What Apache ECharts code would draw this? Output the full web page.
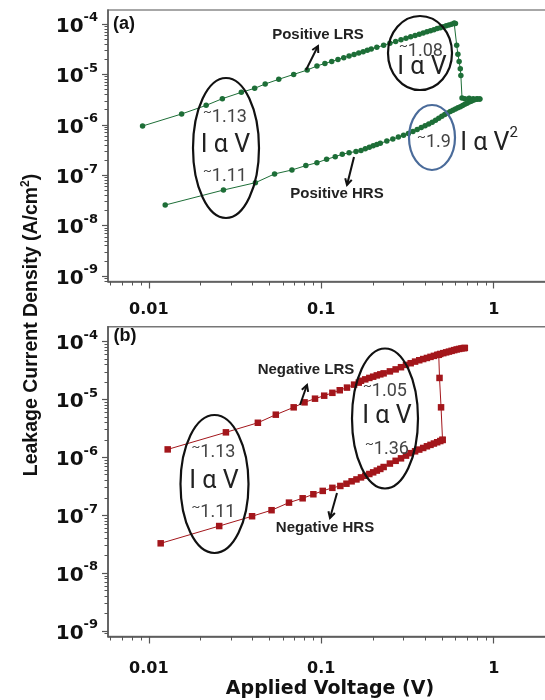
<!DOCTYPE html>
<html><head><meta charset="utf-8">
<script src="https://cdn.jsdelivr.net/npm/echarts@6/dist/echarts.min.js"></script>
<style>html,body{margin:0;padding:0;background:#fff}#c{width:545px;height:700px}</style>
</head><body><div id="c"></div>
<script>
// ---- tick labels ----
const xMajorTicks = [0.01, 0.1, 1];
const yMajorTicks = [1e-9, 1e-8, 1e-7, 1e-6, 1e-5, 1e-4];
const minorMultipliers = [2, 3, 4, 5, 6, 7, 8, 9];

// ---- (a) positive sweep ----
const posLrsV = [0.0092,0.0155,0.0215,0.0267,0.0344,0.0411,0.0473,0.0567,0.0692,0.0829,0.0944,0.105,0.115,0.125,0.135,0.145,0.155,0.165,0.175,0.185,0.195,0.21,0.23,0.25,0.27,0.29,0.31,0.33,0.35,0.37,0.39,0.41,0.43,0.45,0.47,0.49,0.51,0.53,0.55,0.57,0.59];
const posLrsJ = [9.46e-7,1.64e-6,2.43e-6,3.3e-6,4.41e-6,5.3e-6,6.45e-6,8.0e-6,1.0e-5,1.22e-5,1.47e-5,1.65e-5,1.81e-5,1.98e-5,2.15e-5,2.32e-5,2.49e-5,2.66e-5,2.83e-5,3.01e-5,3.18e-5,3.44e-5,3.79e-5,4.14e-5,4.49e-5,4.85e-5,5.2e-5,5.56e-5,5.92e-5,6.28e-5,6.64e-5,7.0e-5,7.37e-5,7.73e-5,8.1e-5,8.47e-5,8.83e-5,9.2e-5,9.57e-5,9.94e-5,1.03e-4];
const posDropV = [0.59,0.6,0.61,0.62,0.63,0.64,0.645,0.655,0.68,0.72,0.76,0.8,0.83];
const posDropJ = [1.03e-4,1.02e-4,3.8e-5,2.5e-5,1.8e-5,1.3e-5,9.5e-6,3.4e-6,3.3e-6,3.35e-6,3.3e-6,3.3e-6,3.25e-6];
const posHrsV = [0.01245,0.0271,0.0415,0.0536,0.0676,0.0814,0.0944,0.1074,0.1205,0.1324,0.145,0.159,0.17,0.18,0.19,0.2,0.21,0.22,0.24,0.26,0.28,0.30,0.32,0.34,0.36,0.38,0.40,0.42,0.44,0.46,0.48,0.50,0.52,0.54,0.56,0.58,0.60,0.62,0.64,0.66,0.68,0.70,0.72,0.74,0.76,0.78,0.80,0.83];
const posHrsJ = [2.56e-8,5.08e-8,7.1e-8,1.06e-7,1.27e-7,1.55e-7,1.77e-7,2.07e-7,2.33e-7,2.6e-7,2.8e-7,2.95e-7,3.1e-7,3.35e-7,3.6e-7,3.85e-7,4.05e-7,4.3e-7,4.75e-7,5.2e-7,5.7e-7,6.2e-7,6.75e-7,7.4e-7,8.1e-7,8.8e-7,9.6e-7,1.04e-6,1.12e-6,1.23e-6,1.35e-6,1.48e-6,1.6e-6,1.72e-6,1.83e-6,1.95e-6,2.07e-6,2.18e-6,2.29e-6,2.42e-6,2.55e-6,2.68e-6,2.82e-6,2.95e-6,3.08e-6,3.17e-6,3.23e-6,3.25e-6];

// ---- (b) negative sweep ----
const negLrsV = [0.01287,0.028,0.0429,0.0545,0.0692,0.08,0.092,0.104,0.116,0.128,0.141,0.155,0.165,0.17,0.18,0.19,0.20,0.21,0.22,0.23,0.25,0.27,0.29,0.31,0.33,0.35,0.37,0.39,0.41,0.43,0.45,0.47,0.49,0.51,0.53,0.55,0.57,0.59,0.61,0.63,0.65,0.67,0.68];
const negLrsJ = [1.37e-6,2.7e-6,3.95e-6,5.45e-6,7.3e-6,8.9e-6,1.03e-5,1.16e-5,1.3e-5,1.44e-5,1.6e-5,1.8e-5,1.95e-5,2.1e-5,2.22e-5,2.35e-5,2.47e-5,2.6e-5,2.71e-5,2.82e-5,3.05e-5,3.3e-5,3.6e-5,3.95e-5,4.22e-5,4.5e-5,4.75e-5,4.98e-5,5.2e-5,5.43e-5,5.65e-5,5.88e-5,6.1e-5,6.3e-5,6.5e-5,6.7e-5,6.9e-5,7.1e-5,7.3e-5,7.45e-5,7.6e-5,7.7e-5,7.75e-5];
const negSetV = [0.505,0.495,0.485,0.48];
const negSetJ = [2.0e-6,7.3e-6,2.35e-5,5.9e-5];
const negHrsV = [0.01172,0.0256,0.0397,0.0515,0.065,0.078,0.09,0.102,0.116,0.129,0.14,0.15,0.16,0.17,0.18,0.19,0.20,0.21,0.22,0.23,0.25,0.27,0.29,0.31,0.33,0.35,0.37,0.39,0.41,0.43,0.45,0.47,0.49,0.505];
const negHrsJ = [3.27e-8,6.5e-8,9.6e-8,1.22e-7,1.65e-7,1.96e-7,2.3e-7,2.63e-7,2.97e-7,3.2e-7,3.5e-7,3.85e-7,4.15e-7,4.5e-7,4.8e-7,5.15e-7,5.5e-7,5.9e-7,6.3e-7,6.8e-7,7.8e-7,8.7e-7,9.6e-7,1.07e-6,1.18e-6,1.27e-6,1.36e-6,1.45e-6,1.55e-6,1.64e-6,1.73e-6,1.82e-6,1.91e-6,2.0e-6];

// ---- build helpers ----
const xMinorTicks = [];
[-3,-2,-1,0].forEach(n => minorMultipliers.forEach(k => xMinorTicks.push(+(k*Math.pow(10,n)).toPrecision(3))));
const yMinorTicks = [];
for (let n = -10; n <= -4; n++) minorMultipliers.forEach(k => yMinorTicks.push(+(k*Math.pow(10,n)).toPrecision(3)));

const pairs = (v, j) => v.map((x, i) => [x, j[i]]);
const AX = '#555';
const xMin = 0.0058, xMax = 3;
const yRange = [[Math.pow(10,-9.109), Math.pow(10,-3.722)], [Math.pow(10,-9.095), Math.pow(10,-3.744)]];
const tickFont = 'DejaVu Sans';

function xAxes(g, margin) {
  return [
    {gridIndex:g, type:'log', position:'bottom', min:xMin, max:xMax,
     axisLine:{show:true, onZero:false, lineStyle:{color:AX, width:1.5}},
     axisTick:{show:true, customValues:xMajorTicks, length:7, lineStyle:{color:AX, width:1.2}},
     axisLabel:{show:true, customValues:xMajorTicks, margin:margin, formatter:v=>String(v),
       fontFamily:tickFont, fontWeight:'bold', fontSize:16, color:'#111'},
     splitLine:{show:false}, minorTick:{show:false}},
    {gridIndex:g, type:'log', position:'bottom', min:xMin, max:xMax,
     axisLine:{show:false, onZero:false},
     axisTick:{show:true, customValues:xMinorTicks, length:4, lineStyle:{color:AX, width:1}},
     axisLabel:{show:false}, splitLine:{show:false}}
  ];
}
function yAxes(g) {
  return [
    {gridIndex:g, type:'log', position:'left', min:yRange[g][0], max:yRange[g][1],
     axisLine:{show:true, onZero:false, lineStyle:{color:AX, width:1.5}},
     axisTick:{show:true, customValues:yMajorTicks, length:6, lineStyle:{color:AX, width:1.2}},
     axisLabel:{show:true, customValues:yMajorTicks, margin:10,
       formatter:v=>'{a|10}{b|' + Math.round(Math.log10(v)) + '}',
       rich:{a:{fontFamily:tickFont, fontWeight:'bold', fontSize:20, color:'#111', lineHeight:25, verticalAlign:'bottom'},
             b:{fontFamily:tickFont, fontWeight:'bold', fontSize:13, color:'#111', lineHeight:25, verticalAlign:'top'}}},
     splitLine:{show:false}, minorTick:{show:false}},
    {gridIndex:g, type:'log', position:'left', min:yRange[g][0], max:yRange[g][1],
     axisLine:{show:false, onZero:false},
     axisTick:{show:true, customValues:yMinorTicks, length:3.5, lineStyle:{color:AX, width:1}},
     axisLabel:{show:false}, splitLine:{show:false}}
  ];
}

const GREEN = '#1d6e37', RED = '#a3161b';
function ser(name, data, xi, color, symbol, size) {
  return {name, type:'line', xAxisIndex:xi, yAxisIndex:xi, data, symbol, symbolSize:size,
    itemStyle:{color}, lineStyle:{color, width:1}, showAllSymbol:true, animation:false, z:3};
}

// ---- annotations ----
const ANN = 'Roboto';
function txt(x, y, text, size, opts) {
  opts = opts || {};
  return {type:'text', x, y, z:10, rotation:opts.rot||0, style:{text, fontSize:size,
    fontFamily:opts.family||'Liberation Sans', fontWeight:opts.weight||'normal', fill:opts.color||'#222',
    align:'center', verticalAlign:'middle', rich:opts.rich}};
}
function slope(x, y, value) {
  return {type:'text', x, y, z:10, style:{text:'{t|~}{n|' + value + '}', align:'center', verticalAlign:'middle',
    rich:{t:{fontFamily:ANN, fontSize:13, fill:'#444', lineHeight:20, verticalAlign:'top'},
          n:{fontFamily:ANN, fontSize:18, fill:'#444', lineHeight:20, verticalAlign:'bottom'}}}};
}
function ell(cx, cy, rx, ry, color) {
  return {type:'ellipse', z:10, shape:{cx, cy, rx, ry}, style:{fill:'rgba(0,0,0,0)', stroke:color||'#111', lineWidth:2.2}};
}
function arrow(x1, y1, x2, y2) {
  const a = Math.atan2(y2-y1, x2-x1), L = 7, w = 0.5;
  const p1 = [x2 - L*Math.cos(a-w), y2 - L*Math.sin(a-w)];
  const p2 = [x2 - L*Math.cos(a+w), y2 - L*Math.sin(a+w)];
  return [
    {type:'line', z:10, shape:{x1, y1, x2, y2}, style:{stroke:'#111', lineWidth:2}},
    {type:'polyline', z:10, shape:{points:[p1,[x2,y2],p2]}, style:{stroke:'#111', lineWidth:2, fill:null}}
  ];
}
const iavOpt = {family:ANN, color:'#222'};
const graphics = [
  txt(124, 24, '(a)', 18, {weight:'bold', color:'#111'}),
  txt(125, 336, '(b)', 18, {weight:'bold', color:'#111'}),
  txt(318, 35, 'Positive LRS', 15, {weight:'bold'}),
  txt(337, 194, 'Positive HRS', 15, {weight:'bold'}),
  txt(306, 370, 'Negative LRS', 15, {weight:'bold'}),
  txt(325, 528, 'Negative HRS', 15, {weight:'bold'}),
  ...arrow(306, 70, 318, 46),
  ...arrow(354, 157, 347, 185),
  ...arrow(300, 405, 307, 385),
  ...arrow(337, 493, 330, 518),
  // (a) left ellipse
  ell(226, 148, 33, 70),
  slope(225, 116.5, '1.13'),
  txt(225.5, 146, 'I α V', 25, iavOpt),
  slope(225, 175.5, '1.11'),
  // (a) right ellipse
  ell(420, 53, 32, 37),
  slope(421, 50, '1.08'),
  txt(422, 68, 'I α V', 25, iavOpt),
  // (a) blue ellipse
  ell(432, 137.5, 23, 32.5, '#4a6b9a'),
  slope(434, 141.5, '1.9'),
  {type:'text', x:489, y:141, z:10, style:{text:'{m|I α V}{s|2}', align:'center', verticalAlign:'middle',
    rich:{m:{fontFamily:ANN, fontSize:25, fill:'#222', lineHeight:30, verticalAlign:'bottom'},
          s:{fontFamily:ANN, fontSize:15, fill:'#222', lineHeight:30, verticalAlign:'top'}}}},
  // (b) ellipses
  ell(214.5, 484, 34, 69),
  slope(213.5, 451.5, '1.13'),
  txt(214, 481.5, 'I α V', 25, iavOpt),
  slope(213.5, 511.5, '1.11'),
  ell(385, 418.5, 33, 70),
  slope(385, 390.5, '1.05'),
  txt(387, 416.5, 'I α V', 25, iavOpt),
  slope(387, 448, '1.36'),
  // axis titles
  txt(330, 689, 'Applied Voltage (V)', 19, {family:'DejaVu Sans', weight:'bold', color:'#111'}),
  {type:'text', x:31, y:325, z:10, rotation:Math.PI/2, style:{text:'{t|Leakage Current Density (A/cm}{s|2}{t|)}',
    align:'center', verticalAlign:'middle',
    rich:{t:{fontFamily:'Liberation Sans', fontWeight:'bold', fontSize:19.5, fill:'#111', lineHeight:22, verticalAlign:'bottom'},
          s:{fontFamily:'Liberation Sans', fontWeight:'bold', fontSize:12, fill:'#111', lineHeight:22, verticalAlign:'top'}}}}
];

const chart = echarts.init(document.getElementById('c'), null, {renderer:'canvas'});
chart.setOption({
  animation:false,
  backgroundColor:'#fff',
  grid:[
    {left:108, top:10, width:468, height:271.5, show:true, borderColor:'#8a8a8a', borderWidth:1.5, outerBoundsMode:'none', containLabel:false},
    {left:108, top:326.7, width:468, height:309.8, show:true, borderColor:'#777', borderWidth:1.5, outerBoundsMode:'none', containLabel:false}
  ],
  xAxis:[...xAxes(0, 20), ...xAxes(1, 24)],
  yAxis:[...yAxes(0), ...yAxes(1)],
  series:[
    ser('Positive LRS', pairs(posLrsV, posLrsJ), 0, GREEN, 'circle', 5.5),
    ser('Positive switch', pairs(posDropV, posDropJ), 0, GREEN, 'circle', 5.5),
    ser('Positive HRS', pairs(posHrsV, posHrsJ), 0, GREEN, 'circle', 5.5),
    ser('Negative LRS', pairs(negLrsV, negLrsJ), 2, RED, 'rect', 6.5),
    ser('Negative switch', pairs(negSetV, negSetJ), 2, RED, 'rect', 6.5),
    ser('Negative HRS', pairs(negHrsV, negHrsJ), 2, RED, 'rect', 6.5)
  ],
  graphic:graphics
});
</script></body></html>
